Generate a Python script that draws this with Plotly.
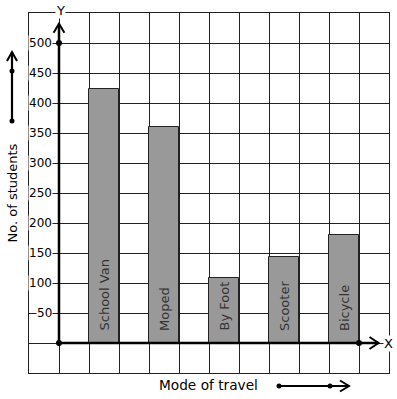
import plotly.graph_objects as go

# ---- data ----
modes = ["School Van", "Moped", "By Foot", "Scooter", "Bicycle"]
students = [423, 360, 108, 144, 180]
bar_pos = [1.5, 3.5, 5.5, 7.5, 9.5]
y_ticks = [50, 100, 150, 200, 250, 300, 350, 400, 450, 500]
y_tick_labels = ["50", "100", "150", "200", "250", "300", "350", "400", "450", "500"]

W, H = 397, 399
L, R, T, B = 29, 8, 13, 26
PW, PH = W - L - R, H - T - B

def px(x):
    return (x - L) / PW

def py(y):
    return 1 - (y - T) / PH

FONT = "DejaVu Sans"
GRID = "#222222"

fig = go.Figure()
fig.add_trace(go.Bar(
    x=bar_pos, y=students, width=1,
    marker=dict(color="#999999", line=dict(color="#222222", width=1)),
    hoverinfo="skip", showlegend=False,
))

# dots on axes
fig.add_trace(go.Scatter(
    x=[0, 0, 10], y=[0, 500, 0], mode="markers",
    marker=dict(color="black", size=6), cliponaxis=False,
    hoverinfo="skip", showlegend=False,
))

shapes = []
# thick axes
shapes.append(dict(type="line", xref="x", yref="y", x0=0, y0=0, x1=0, y1=532,
                   line=dict(color="black", width=2.5)))
shapes.append(dict(type="line", xref="x", yref="y", x0=0, y0=0, x1=10.65, y1=0,
                   line=dict(color="black", width=2.5)))
# y arrowhead
shapes.append(dict(type="path", xref="x", yref="y",
                   path="M -0.18,517 L 0,532 L 0.18,517",
                   line=dict(color="black", width=2)))
# x arrowhead
shapes.append(dict(type="path", xref="x", yref="y",
                   path="M 10.35,10 L 10.65,0 L 10.35,-10",
                   line=dict(color="black", width=2)))

# left arrow (outside plot)
shapes.append(dict(type="line", xref="paper", yref="paper",
                   x0=px(12), y0=py(121), x1=px(12), y1=py(52),
                   line=dict(color="black", width=2.2)))
shapes.append(dict(type="path", xref="paper", yref="paper",
                   path=f"M {px(7)},{py(61)} L {px(12)},{py(52)} L {px(17)},{py(61)}",
                   line=dict(color="black", width=2)))
for yy in (121, 71):
    shapes.append(dict(type="circle", xref="paper", yref="paper",
                       x0=px(9.5), x1=px(14.5), y0=py(yy - 2.5), y1=py(yy + 2.5),
                       fillcolor="black", line=dict(width=0)))
# bottom arrow
shapes.append(dict(type="line", xref="paper", yref="paper",
                   x0=px(279), y0=py(386), x1=px(349), y1=py(386),
                   line=dict(color="black", width=2.2)))
shapes.append(dict(type="path", xref="paper", yref="paper",
                   path=f"M {px(340)},{py(380.5)} L {px(349)},{py(386)} L {px(340)},{py(391.5)}",
                   line=dict(color="black", width=2)))
for xx in (279, 330):
    shapes.append(dict(type="circle", xref="paper", yref="paper",
                       x0=px(xx - 2.5), x1=px(xx + 2.5), y0=py(386 - 2.5), y1=py(386 + 2.5),
                       fillcolor="black", line=dict(width=0)))

annotations = []
for v, t in zip(y_ticks, y_tick_labels):
    annotations.append(dict(xref="x", yref="y", x=-0.2, y=v, text=t, showarrow=False,
                            xanchor="right", yanchor="middle", bgcolor="white",
                            borderpad=0, font=dict(family=FONT, size=12, color="black")))
for xb, m in zip(bar_pos, modes):
    annotations.append(dict(xref="x", yref="y", x=xb, y=0, text=m, showarrow=False,
                            textangle=-90, xanchor="center", yanchor="bottom", yshift=10,
                            font=dict(family=FONT, size=13, color="#333333")))
annotations.append(dict(xref="x", yref="paper", x=0.05, y=py(10), text="Y", showarrow=False,
                        bgcolor="white", borderpad=0, xanchor="center", yanchor="middle",
                        font=dict(family=FONT, size=13, color="black")))
annotations.append(dict(xref="paper", yref="y", x=px(388.5), y=0, text="X", showarrow=False,
                        bgcolor="white", borderpad=0, xanchor="center", yanchor="middle",
                        font=dict(family=FONT, size=13, color="black")))
annotations.append(dict(xref="paper", yref="paper", x=px(208.5), y=py(385), text="Mode of travel",
                        showarrow=False, xanchor="center", yanchor="middle",
                        font=dict(family=FONT, size=13.7, color="black")))
annotations.append(dict(xref="paper", yref="paper", x=px(11.5), y=py(193), text="No. of students",
                        showarrow=False, textangle=-90, xanchor="center", yanchor="middle",
                        font=dict(family=FONT, size=13, color="black")))

fig.update_layout(
    width=W, height=H,
    margin=dict(l=L, r=R, t=T, b=B, pad=0),
    paper_bgcolor="white", plot_bgcolor="white",
    shapes=shapes, annotations=annotations,
    bargap=0,
    xaxis=dict(range=[-1, 11], dtick=1, tick0=0, showgrid=True, gridcolor=GRID, gridwidth=1,
               zeroline=False, showticklabels=False, ticks="", showline=True, mirror=True,
               linecolor=GRID, linewidth=1, fixedrange=True),
    yaxis=dict(range=[-50, 550], dtick=50, tick0=0, showgrid=True, gridcolor=GRID, gridwidth=1,
               zeroline=False, showticklabels=False, ticks="", showline=True, mirror=True,
               linecolor=GRID, linewidth=1, fixedrange=True),
)

fig.write_html("out.html", config={"displayModeBar": False})
